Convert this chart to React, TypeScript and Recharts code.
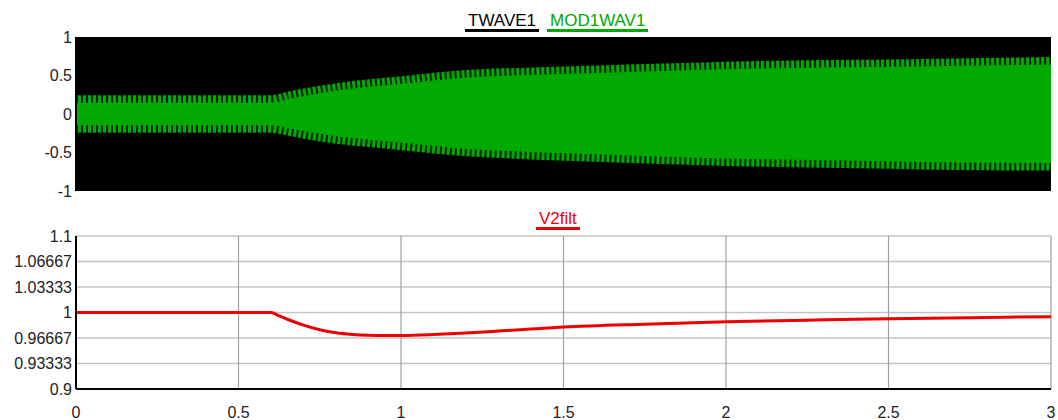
import { ComposedChart, Area, Line, XAxis, YAxis, CartesianGrid } from 'recharts'

// top panel: envelopes (the carrier is too dense to draw per cycle)
const envTime = [0, 0.3, 0.6, 0.65, 0.7, 0.8, 0.9, 1.0, 1.2, 1.4, 1.6, 1.8, 2.0, 2.2, 2.4, 2.6, 2.8, 3.0]
const twaveHigh = [1, 1, 1, 1, 1, 1, 1, 1, 1, 1, 1, 1, 1, 1, 1, 1, 1, 1]
const twaveLow = [-1, -1, -1, -1, -1, -1, -1, -1, -1, -1, -1, -1, -1, -1, -1, -1, -1, -1]
const modHigh = [0.245, 0.245, 0.245, 0.29, 0.33, 0.4, 0.45, 0.49, 0.57, 0.605, 0.63, 0.655, 0.68, 0.695, 0.705, 0.715, 0.728, 0.74]
const modLow = [-0.245, -0.245, -0.245, -0.28, -0.32, -0.385, -0.43, -0.47, -0.55, -0.59, -0.62, -0.65, -0.675, -0.69, -0.705, -0.72, -0.73, -0.735]
const waveTicks = [-1, -0.5, 0, 0.5, 1]

// bottom panel
const v2Time = [0, 0.6, 0.625, 0.65, 0.7, 0.75, 0.8, 0.85, 0.9, 0.95, 1.0, 1.1, 1.2, 1.3, 1.4, 1.5, 1.75, 2.0, 2.25, 2.5, 2.75, 3.0]
const v2filt = [1, 1, 0.9955, 0.9912, 0.9835, 0.9775, 0.9735, 0.9713, 0.9702, 0.9698, 0.9699, 0.9712, 0.9732, 0.9757, 0.9784, 0.981, 0.9848, 0.9878, 0.99, 0.9919, 0.9933, 0.9946]
const v2Ticks = [0.9, 0.93333, 0.96667, 1, 1.03333, 1.06667, 1.1]
const timeTicks = [0, 0.5, 1, 1.5, 2, 2.5, 3]

const waveData = envTime.map((t, i) => ({
  t,
  twave: [twaveLow[i], twaveHigh[i]],
  mod: [modLow[i], modHigh[i]],
}))
const v2Data = v2Time.map((t, i) => ({ t, v2: v2filt[i] }))

const font = '"Liberation Sans", Arial, sans-serif'
const tick = { fill: '#222', fontSize: 16, fontFamily: font }

const titleStyle = (color: string): React.CSSProperties => ({
  display: 'inline-block',
  color,
  fontFamily: font,
  fontSize: 17,
  lineHeight: '17px',
  padding: '0 3px',
  borderBottom: `3px solid ${color}`,
})

export default function App() {
  return (
    <div style={{ position: 'absolute', left: 0, top: 0, width: 1058, height: 420, background: '#fff', overflow: 'hidden' }}>
      <div style={{ position: 'absolute', left: 465, top: 12, display: 'flex', gap: 8 }}>
        <span style={titleStyle('#000')}>TWAVE1</span>
        <span style={titleStyle('#00aa00')}>MOD1WAV1</span>
      </div>
      <div style={{ position: 'absolute', left: 536, top: 210 }}>
        <span style={titleStyle('#ee0000')}>V2filt</span>
      </div>

      <div style={{ position: 'absolute', left: 0, top: 0 }}>
        <ComposedChart width={1058} height={200} data={waveData} margin={{ top: 37, right: 7, bottom: 9, left: 0 }}>
          <XAxis dataKey="t" type="number" domain={[0, 3]} hide />
          <YAxis
            type="number"
            domain={[-1, 1]}
            ticks={waveTicks}
            interval={0}
            width={76}
            tick={tick}
            tickLine={false}
            tickSize={2}
            tickMargin={2}
            axisLine={{ stroke: '#000', strokeWidth: 2 }}
          />
          <Area dataKey="twave" type="linear" fill="#000" fillOpacity={1} stroke="none" isAnimationActive={false} />
          <Area dataKey="mod" type="monotone" fill="#00aa00" fillOpacity={1} stroke="none" isAnimationActive={false} />
          <Area
            dataKey="mod"
            type="monotone"
            fill="none"
            stroke="#000"
            strokeOpacity={0.8}
            strokeWidth={15}
            strokeDasharray="2 3"
            isAnimationActive={false}
          />
        </ComposedChart>
      </div>

      <div style={{ position: 'absolute', left: 0, top: 200 }}>
        <ComposedChart width={1058} height={220} data={v2Data} margin={{ top: 36, right: 7, bottom: 0, left: 0 }}>
          <CartesianGrid vertical={false} stroke="#c4c4c4" strokeWidth={1.5} />
          <CartesianGrid horizontal={false} stroke="#a0a0a0" strokeWidth={1.2} />
          <XAxis
            dataKey="t"
            type="number"
            domain={[0, 3]}
            ticks={timeTicks}
            interval={0}
            height={31}
            tick={tick}
            tickLine={false}
            tickSize={16}
            tickMargin={2}
            axisLine={{ stroke: '#000', strokeWidth: 2 }}
          />
          <YAxis
            type="number"
            domain={[0.9, 1.1]}
            ticks={v2Ticks}
            interval={0}
            width={76}
            tick={tick}
            tickLine={false}
            tickSize={2}
            tickMargin={2}
            axisLine={{ stroke: '#000', strokeWidth: 2 }}
          />
          <Line dataKey="v2" type="monotone" stroke="#ee0000" strokeWidth={3} dot={false} isAnimationActive={false} />
        </ComposedChart>
      </div>
    </div>
  )
}
